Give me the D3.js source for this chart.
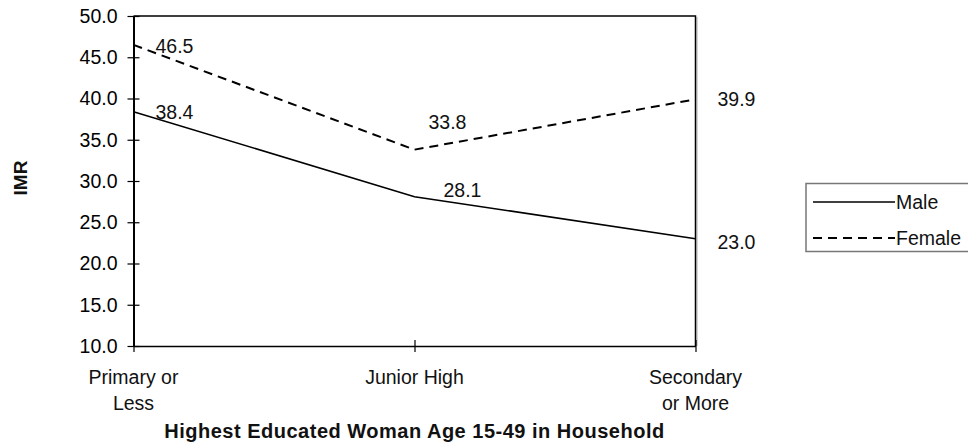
<!DOCTYPE html>
<html>
<head>
<meta charset="utf-8">
<script src="https://cdn.jsdelivr.net/npm/d3@7"></script>
<style>
  html, body { margin: 0; padding: 0; background: #fff; }
  svg { display: block; font-family: "Liberation Sans", Arial, sans-serif; }
</style>
</head>
<body>
<svg id="chart" width="968" height="447"></svg>
<script>
// Infant mortality rate by education of the most educated woman in the household
const categories = [["Primary or", "Less"], ["Junior High"], ["Secondary", "or More"]];
const categoryKeys = ["Primary or Less", "Junior High", "Secondary or More"];
const male = [38.4, 28.1, 23.0];
const female = [46.5, 33.8, 39.9];
const yTicks = [10, 15, 20, 25, 30, 35, 40, 45, 50];
const seriesNames = ["Male", "Female"];

// Label placement relative to each point (dx, dy of the text baseline)
const labelPlacement = {
  Male:   [[22, 7.5], [29, 0.5], [22, 10]],
  Female: [[22, 8], [14, -20.5], [22, 7]]
};

const svg = d3.select("#chart");
const plot = { left: 133.5, right: 695.5, top: 16, bottom: 346 };

const x = d3.scalePoint().domain(categoryKeys).range([plot.left, plot.right]);
const y = d3.scaleLinear().domain([10, 50]).range([plot.bottom, plot.top]);

const fontSize = 19.5;

// Plot frame: top and right edges with a soft shadow on the right
svg.append("line")
  .attr("x1", plot.right + 1.5).attr("x2", plot.right + 1.5)
  .attr("y1", plot.top + 1).attr("y2", plot.bottom)
  .attr("stroke", "#c8c8c8").attr("stroke-width", 1.5);
svg.append("path")
  .attr("d", `M${plot.left},${plot.top}H${plot.right}V${plot.bottom}`)
  .attr("fill", "none").attr("stroke", "#000").attr("stroke-width", 1.5);

// Y axis
const yAxis = d3.axisLeft(y).tickValues(yTicks).tickFormat(d3.format(".1f"))
  .tickSizeInner(6).tickSizeOuter(0).tickPadding(10);
const gy = svg.append("g").attr("transform", `translate(${plot.left},0)`).call(yAxis);
gy.select(".domain").attr("stroke", "#000").attr("stroke-width", 2);
gy.selectAll(".tick line").attr("x2", 6).attr("x1", -6).attr("stroke", "#000").attr("stroke-width", 1.2);
gy.selectAll(".tick text")
  .attr("x", -16)
  .attr("font-size", fontSize).attr("fill", "#000")
  .attr("font-family", "Liberation Sans, Arial, sans-serif");

// X axis
const xAxis = d3.axisBottom(x).tickSizeInner(6).tickSizeOuter(0).tickFormat("");
const gx = svg.append("g").attr("transform", `translate(0,${plot.bottom})`).call(xAxis);
gx.select(".domain").attr("stroke", "#000").attr("stroke-width", 1.5);
gx.selectAll(".tick line").attr("y1", -6).attr("y2", 6).attr("stroke", "#000").attr("stroke-width", 1.2);

// Category labels, possibly on two lines
categoryKeys.forEach((k, i) => {
  const t = svg.append("text")
    .attr("x", x(k)).attr("y", 384)
    .attr("text-anchor", "middle")
    .attr("font-size", fontSize).attr("fill", "#111");
  categories[i].forEach((line, j) => {
    t.append("tspan").attr("x", x(k)).attr("dy", j === 0 ? 0 : 26).text(line);
  });
});

// Series lines
const line = d3.line().x((d, i) => x(categoryKeys[i])).y(d => y(d));

svg.append("path").datum(male)
  .attr("d", line).attr("fill", "none")
  .attr("stroke", "#000").attr("stroke-width", 1.6);

svg.append("path").datum(female)
  .attr("d", line).attr("fill", "none")
  .attr("stroke", "#000").attr("stroke-width", 2)
  .attr("stroke-dasharray", "9,6");

// Value labels
const fmt = d3.format(".1f");
[["Male", male], ["Female", female]].forEach(([name, vals]) => {
  vals.forEach((v, i) => {
    const [dx, dy] = labelPlacement[name][i];
    svg.append("text")
      .attr("x", x(categoryKeys[i]) + dx)
      .attr("y", y(v) + dy)
      .attr("font-size", fontSize).attr("fill", "#111")
      .text(fmt(v));
  });
});

// Axis titles
svg.append("text")
  .attr("transform", "translate(27,178) rotate(-90)")
  .attr("text-anchor", "middle")
  .attr("font-size", 19).attr("font-weight", "bold").attr("fill", "#111")
  .text("IMR");

svg.append("text")
  .attr("x", (plot.left + plot.right) / 2).attr("y", 438)
  .attr("text-anchor", "middle")
  .attr("font-size", 20).attr("font-weight", "bold").attr("fill", "#111")
  .attr("letter-spacing", 0.5)
  .text("Highest Educated Woman Age 15-49 in Household");

// Legend
const lg = svg.append("g");
lg.append("rect")
  .attr("x", 806).attr("y", 183.5).attr("width", 200).attr("height", 68)
  .attr("fill", "#fff").attr("stroke", "#777").attr("stroke-width", 1.5);

const legendRows = [
  { name: seriesNames[0], y: 202, dash: null, w: 1.6 },
  { name: seriesNames[1], y: 238, dash: "9,6", w: 2 }
];
legendRows.forEach(r => {
  lg.append("line")
    .attr("x1", 813).attr("x2", 895).attr("y1", r.y).attr("y2", r.y)
    .attr("stroke", "#000").attr("stroke-width", r.w)
    .attr("stroke-dasharray", r.dash);
  lg.append("text")
    .attr("x", 896).attr("y", r.y + 7)
    .attr("font-size", fontSize).attr("fill", "#111")
    .text(r.name);
});
</script>
</body>
</html>
